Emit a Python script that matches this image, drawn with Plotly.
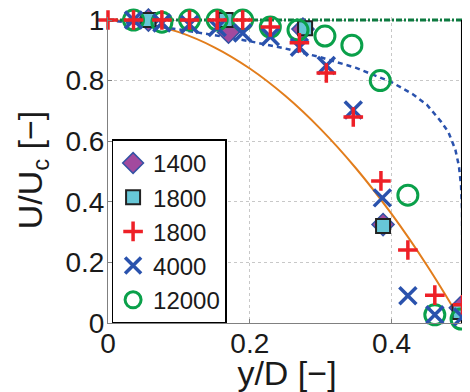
import plotly.graph_objects as go

# ---- data ----
theory_lam_x = [0.0, 0.05, 0.1, 0.15, 0.2, 0.25, 0.3, 0.35, 0.4, 0.45, 0.5]
theory_lam_y = [1.0, 0.99, 0.96, 0.91, 0.84, 0.75, 0.64, 0.51, 0.36, 0.19, 0.0]

theory_turb_x = [0.0, 0.05, 0.1, 0.15, 0.2, 0.25, 0.3, 0.35, 0.4, 0.43, 0.45, 0.47,
                 0.48, 0.49, 0.495, 0.498, 0.4995, 0.5]
theory_turb_y = [1.0, 0.985, 0.969, 0.95, 0.93, 0.906, 0.877, 0.842, 0.795, 0.755, 0.72,
                 0.664, 0.631, 0.572, 0.518, 0.454, 0.372, 0.0]

plug_x = [0.0, 0.5]
plug_y = [1.0, 1.0]

wall_x = [0.5, 0.5]
wall_y = [0.0, 1.0]

re1400_x = [0.057, 0.17, 0.275, 0.388, 0.497]
re1400_y = [1.0, 0.96, 0.97, 0.325, 0.05]

re1800sq_x = [0.057, 0.166, 0.278, 0.388, 0.496]
re1800sq_y = [1.0, 1.0, 0.973, 0.32, 0.036]

re1800p_x = [0.0, 0.036, 0.076, 0.115, 0.154, 0.19, 0.229, 0.27, 0.308, 0.346, 0.385,
             0.423, 0.461, 0.5]
re1800p_y = [1.0, 1.0, 1.0, 1.0, 1.0, 1.0, 0.977, 0.925, 0.825, 0.68, 0.469, 0.241,
             0.092, 0.06]

re4000_x = [0.036, 0.076, 0.115, 0.154, 0.19, 0.229, 0.27, 0.308, 0.346, 0.387, 0.423,
            0.461, 0.5]
re4000_y = [1.0, 0.99, 0.985, 0.975, 0.957, 0.945, 0.91, 0.85, 0.703, 0.413, 0.09,
            0.027, 0.02]

re12000_x = [0.036, 0.076, 0.115, 0.154, 0.19, 0.229, 0.268, 0.306, 0.344, 0.384, 0.423,
             0.461, 0.498]
re12000_y = [1.0, 0.993, 1.0, 1.0, 1.0, 0.977, 0.967, 0.947, 0.917, 0.80, 0.422, 0.027,
             0.013]

x_ticks = [0, 0.2, 0.4]
y_ticks = [0, 0.2, 0.4, 0.6, 0.8, 1]

FONT = "Liberation Sans, Arial, sans-serif"

fig = go.Figure()

fig.add_trace(go.Scatter(x=theory_lam_x, y=theory_lam_y, mode="lines",
                         line=dict(color="#e27d1c", width=2, shape="spline"),
                         showlegend=False, hoverinfo="skip"))
fig.add_trace(go.Scatter(x=theory_turb_x, y=theory_turb_y, mode="lines",
                         line=dict(color="#2a52ad", width=2.5, dash="5px,4px"),
                         showlegend=False, hoverinfo="skip"))
fig.add_trace(go.Scatter(x=plug_x, y=plug_y, mode="lines",
                         line=dict(color="#0d7a40", width=3, dash="6px,2px,2px,2px"),
                         showlegend=False, hoverinfo="skip", cliponaxis=False))
fig.add_trace(go.Scatter(x=wall_x, y=wall_y, mode="lines",
                         line=dict(color="black", width=3),
                         showlegend=False, hoverinfo="skip", cliponaxis=False))

fig.add_trace(go.Scatter(x=re1400_x, y=re1400_y, mode="markers", name="1400",
                         legendrank=1, cliponaxis=False,
                         marker=dict(symbol="diamond", size=17, color="#a24a9e",
                                     line=dict(color="#3452a4", width=1.5))))
fig.add_trace(go.Scatter(x=re1800sq_x, y=re1800sq_y, mode="markers", name="1800",
                         legendrank=2, cliponaxis=False,
                         marker=dict(symbol="square", size=14, color="#67c7d7",
                                     line=dict(color="#222222", width=2))))
fig.add_trace(go.Scatter(x=re12000_x, y=re12000_y, mode="markers", name="12000",
                         legendrank=5, cliponaxis=False,
                         marker=dict(symbol="circle-open", size=20, color="#0aa04a",
                                     line=dict(color="#0aa04a", width=3))))
fig.add_trace(go.Scatter(x=re4000_x, y=re4000_y, mode="markers", name="4000",
                         legendrank=4, cliponaxis=False,
                         marker=dict(symbol="x-thin", size=17, color="#2a52ad",
                                     line=dict(color="#2a52ad", width=3.5))))
fig.add_trace(go.Scatter(x=re1800p_x, y=re1800p_y, mode="markers", name="1800",
                         legendrank=3, cliponaxis=False,
                         marker=dict(symbol="cross-thin", size=14, color="#ee2027",
                                     line=dict(color="#ee2027", width=3.5))))

# page body has an 8px default margin, so the figure is 8px smaller and shifted
fig.update_layout(
    width=462, height=384,
    margin=dict(l=100, r=3.5, t=9, b=69),
    paper_bgcolor="white", plot_bgcolor="white",
    font=dict(family=FONT, size=28, color="#1a1a1a"),
    showlegend=True,
    legend=dict(x=0.01, y=0.6, xanchor="left", yanchor="top",
                bgcolor="white", bordercolor="black", borderwidth=1.5,
                font=dict(size=24), tracegroupgap=0, itemwidth=30),
)
fig.update_xaxes(range=[0, 0.505], tickvals=x_ticks, showgrid=True, automargin=False,
                 gridcolor="#c8c8c8", griddash="dot", gridwidth=1,
                 showline=True, linecolor="#808080", linewidth=1,
                 ticks="inside", ticklen=4, tickcolor="#808080",
                 zeroline=False, ticklabelstandoff=-5, ticklabeloverflow="allow",
                 title=dict(text="y/D [−]", standoff=0))
fig.update_yaxes(range=[0, 1.01], tickvals=y_ticks, showgrid=True, automargin=False,
                 gridcolor="#c8c8c8", griddash="dot", gridwidth=1,
                 showline=True, linecolor="#808080", linewidth=1,
                 ticks="inside", ticklen=4, tickcolor="#808080",
                 zeroline=False, ticklabelstandoff=-3, ticklabeloverflow="allow",
                 title=dict(text="U/U<sub>c</sub> [−]", standoff=12))

fig.write_html("out.html")
